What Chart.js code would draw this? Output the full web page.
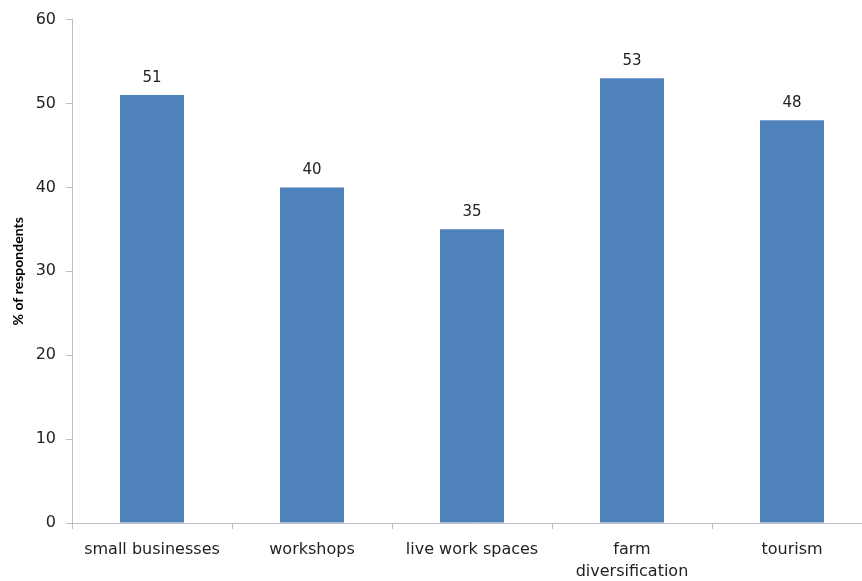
<!DOCTYPE html>
<html>
<head>
<meta charset="utf-8">
<script src="https://cdn.jsdelivr.net/npm/chart.js@4/dist/chart.umd.min.js"></script>
<style>
  html, body { margin: 0; padding: 0; background: #fff; overflow: hidden; }
  #wrap { width: 862px; height: 581px; overflow: hidden; }
  #box { width: 872px; height: 581px; }
</style>
</head>
<body>
<div id="wrap"><div id="box"><canvas id="chart"></canvas></div></div>
<script>
// категории и значения
const categories = ["small businesses", "workshops", "live work spaces", ["farm", "diversification"], "tourism"];
const values = [51, 40, 35, 53, 48];
const yTicks = [0, 10, 20, 30, 40, 50, 60];

const FONT = "'DejaVu Sans', sans-serif";

// подписи над столбцами
const valueLabels = {
  id: "valueLabels",
  afterDatasetsDraw(chart) {
    const ctx = chart.ctx;
    const meta = chart.getDatasetMeta(0);
    ctx.save();
    ctx.font = "15px " + FONT;
    ctx.fillStyle = "#222";
    ctx.textAlign = "center";
    ctx.textBaseline = "bottom";
    meta.data.forEach((bar, i) => {
      ctx.fillText(values[i], bar.x, bar.y - 10);
    });
    ctx.restore();
  },
};

new Chart(document.getElementById("chart"), {
  type: "bar",
  data: {
    labels: categories,
    datasets: [
      {
        data: values,
        backgroundColor: "#4F81BD",
        borderWidth: 0,
        barPercentage: 0.4,
        categoryPercentage: 1,
      },
    ],
  },
  options: {
    responsive: true,
    maintainAspectRatio: false,
    animation: false,
    layout: { padding: { top: 18, left: 0, right: 0, bottom: 0 } },
    plugins: { legend: { display: false }, tooltip: { enabled: false } },
    scales: {
      y: {
        min: 0,
        max: 60,
        afterBuildTicks: (scale) => {
          scale.ticks = yTicks.map((v) => ({ value: v }));
        },
        afterFit: (scale) => {
          scale.width = 72;
        },
        border: { color: "#bfbfbf", width: 1 },
        grid: { drawOnChartArea: false, color: "#bfbfbf", tickLength: 6 },
        ticks: { color: "#222", font: { family: FONT, size: 16 }, padding: 10 },
        title: {
          display: true,
          text: "% of respondents",
          color: "#000",
          font: { family: "Lato, sans-serif", size: 14, weight: "bold" },
          padding: { top: 10, bottom: 0 },
        },
      },
      x: {
        afterFit: (scale) => {
          scale.height = 58;
        },
        border: { color: "#bfbfbf", width: 1 },
        grid: { drawOnChartArea: false, color: "#bfbfbf", tickLength: 6, offset: true },
        ticks: {
          color: "#222",
          font: { family: FONT, size: 16, lineHeight: 1.35 },
          padding: 10,
          maxRotation: 0,
        },
      },
    },
  },
  plugins: [valueLabels],
});
</script>
</body>
</html>
